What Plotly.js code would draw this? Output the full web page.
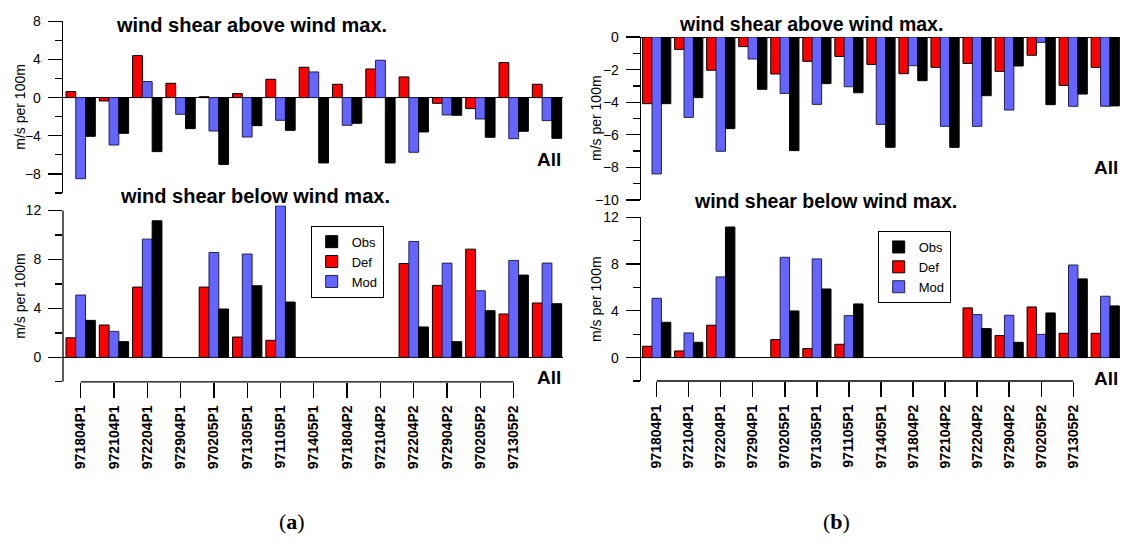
<!DOCTYPE html>
<html>
<head>
<meta charset="utf-8">
<script src="https://cdn.plot.ly/plotly-3.0.1.min.js"></script>
<style>html,body{margin:0;padding:0;background:#fff;}#chart{width:1123px;height:546px;}</style>
</head>
<body>
<div id="chart"></div>
<script>
const CATEGORIES = ['971804P1','972104P1','972204P1','972904P1','970205P1','971305P1','971105P1','971405P1','971804P2','972104P2','972204P2','972904P2','970205P2','971305P2','All'];
const STATIONS = CATEGORIES.slice(0, 14);

// panel (a) - wind shear above wind max.
const A_ABOVE_DEF = [0.63, -0.35, 4.4, 1.5, 0.1, 0.42, 1.92, 3.18, 1.4, 3.0, 2.17, -0.6, -1.15, 3.67, 1.4];
const A_ABOVE_MOD = [-8.5, -4.97, 1.68, -1.75, -3.5, -4.13, -2.38, 2.69, -2.9, 3.92, -5.73, -1.82, -2.24, -4.3, -2.41];
const A_ABOVE_OBS = [-4.06, -3.74, -5.66, -3.25, -7.0, -2.94, -3.43, -6.85, -2.69, -6.85, -3.6, -1.85, -4.16, -3.53, -4.27];
// panel (a) - wind shear below wind max.
const A_BELOW_DEF = [1.6, 2.64, 5.74, null, 5.74, 1.66, 1.39, null, null, null, 7.67, 5.88, 8.84, 3.54, 4.44];
const A_BELOW_MOD = [5.09, 2.12, 9.66, null, 8.57, 8.44, 12.38, null, null, null, 9.47, 7.7, 5.44, 7.92, 7.7];
const A_BELOW_OBS = [3.02, 1.28, 11.16, null, 3.95, 5.85, 4.52, null, null, null, 2.48, 1.28, 3.81, 6.72, 4.38];
// panel (b) - wind shear above wind max.
const B_ABOVE_DEF = [-4.09, -0.76, -2.04, -0.59, -2.27, -1.49, -1.19, -1.68, -2.25, -1.86, -1.62, -2.11, -1.12, -2.97, -1.86];
const B_ABOVE_MOD = [-8.4, -4.93, -7.01, -1.35, -3.46, -4.13, -3.05, -5.36, -1.76, -5.48, -5.48, -4.48, -0.33, -4.25, -4.25];
const B_ABOVE_OBS = [-4.09, -3.72, -5.62, -3.21, -6.97, -2.86, -3.42, -6.77, -2.68, -6.77, -3.6, -1.78, -4.15, -3.5, -4.23];
// panel (b) - wind shear below wind max.
const B_BELOW_DEF = [0.97, 0.57, 2.77, null, 1.54, 0.77, 1.14, null, null, null, 4.25, 1.88, 4.33, 2.08, 2.08];
const B_BELOW_MOD = [5.07, 2.11, 6.9, null, 8.58, 8.44, 3.59, null, null, null, 3.68, 3.62, 1.99, 7.92, 5.25];
const B_BELOW_OBS = [3.02, 1.31, 11.17, null, 3.99, 5.87, 4.59, null, null, null, 2.48, 1.31, 3.82, 6.73, 4.42];

const SERIES_NAMES = ['Def', 'Mod', 'Obs'];
const COLORS = {Def: '#FF0000', Mod: '#6464FF', Obs: '#000000'};
const RANKS = {Obs: 1, Def: 2, Mod: 3};

const FONT = 'Arial, "Liberation Sans", sans-serif';

const panels = [
  {xa: 'x',  ya: 'y',  data: {Def: A_ABOVE_DEF, Mod: A_ABOVE_MOD, Obs: A_ABOVE_OBS}, legend: null},
  {xa: 'x2', ya: 'y2', data: {Def: B_ABOVE_DEF, Mod: B_ABOVE_MOD, Obs: B_ABOVE_OBS}, legend: null},
  {xa: 'x3', ya: 'y3', data: {Def: A_BELOW_DEF, Mod: A_BELOW_MOD, Obs: A_BELOW_OBS}, legend: 'legend'},
  {xa: 'x4', ya: 'y4', data: {Def: B_BELOW_DEF, Mod: B_BELOW_MOD, Obs: B_BELOW_OBS}, legend: 'legend2'}
];

const traces = [];
panels.forEach(p => {
  SERIES_NAMES.forEach(s => {
    const t = {
      type: 'bar', name: s, x: CATEGORIES, y: p.data[s],
      xaxis: p.xa, yaxis: p.ya,
      marker: {color: COLORS[s], line: {color: s === 'Mod' ? '#202050' : '#000', width: 1}},
      showlegend: p.legend !== null,
      legendrank: RANKS[s],
      hoverinfo: 'x+y+name'
    };
    if (p.legend) t.legend = p.legend;
    traces.push(t);
  });
});

const W = 1123, H = 546;
const px = v => v / W;
const py = v => 1 - v / H;

function xAxis(anchor, domain, range, showLabels) {
  const ax = {
    type: 'category', categoryorder: 'array', categoryarray: CATEGORIES, anchor: anchor,
    domain: domain, range: range, showgrid: false, zeroline: false, showline: false, fixedrange: true
  };
  if (showLabels) {
    Object.assign(ax, {
      tickmode: 'array', tickvals: STATIONS, ticktext: STATIONS,
      ticks: 'outside', ticklen: 15, tickwidth: 1.3, tickcolor: '#000',
      tickangle: -90, ticklabelstandoff: 2,
      tickfont: {family: FONT, size: 14, color: '#000', weight: 'bold'}
    });
  } else {
    Object.assign(ax, {showticklabels: false, ticks: ''});
  }
  return ax;
}

function yAxis(anchor, domain, range, dtick, minorDtick, showline) {
  return {
    anchor: anchor, domain: domain, range: range, fixedrange: true,
    showgrid: false, showline: showline, linecolor: '#000', linewidth: 1.3,
    zeroline: true, zerolinecolor: '#000', zerolinewidth: 1,
    tickmode: 'linear', tick0: 0, dtick: dtick,
    ticks: 'outside', ticklen: 14, tickwidth: 1.3, tickcolor: '#000',
    ticklabelstandoff: 4,
    tickfont: {family: FONT, size: 14, color: '#000'},
    minor: {tickmode: 'linear', tick0: 0, dtick: minorDtick, ticks: 'outside', ticklen: 7, tickwidth: 1.3, tickcolor: '#000', showgrid: false}
  };
}

const AX = [px(63), px(563)];
const BX = [px(641), px(1120)];
const A_XRANGE = [-0.53, 14.48];
const B_XRANGE = [-0.49, 14.46];

const titleFont = s => ({family: FONT, size: s, color: '#000', weight: 'bold'});
const ann = [];
function addText(text, x, y, size, opts) {
  ann.push(Object.assign({text: text, xref: 'paper', yref: 'paper', x: x, y: y, showarrow: false,
    xanchor: 'center', yanchor: 'middle', font: titleFont(size)}, opts || {}));
}
addText('wind shear above wind max.', px(251), py(25), 20);
addText('wind shear below wind max.', px(255), py(196), 20);
addText('wind shear above wind max.', px(811), py(24), 19.5);
addText('wind shear below wind max.', px(825), py(201), 19.5);

[['x', 159], ['x3', 377], ['x2', 167.5], ['x4', 378]].forEach(([xa, yv]) => {
  ann.push({text: 'All', xref: xa + ' domain', x: 1, xanchor: 'right', yref: 'paper', y: py(yv),
    yanchor: 'middle', showarrow: false, font: titleFont(19)});
});

const yTitleFont = {family: FONT, size: 14, color: '#000'};
[[20, 106.7], [20, 295.8], [596, 118], [596, 299]].forEach(([xv, yv]) => {
  ann.push({text: 'm/s per 100m', xref: 'paper', yref: 'paper', x: px(xv), y: py(yv), textangle: -90,
    showarrow: false, xanchor: 'center', yanchor: 'middle', font: yTitleFont});
});

const subFont = {family: '"Liberation Serif", "Times New Roman", serif', size: 22, color: '#000'};
ann.push({text: '(<b>a</b>)', xref: 'paper', yref: 'paper', x: px(277), y: py(536), showarrow: false, font: subFont});
ann.push({text: '(<b>b</b>)', xref: 'paper', yref: 'paper', x: px(852), y: py(536), showarrow: false, font: subFont});

const shapes = [
  // category axis baselines from first to last station tick
  {type: 'line', xref: 'x3', yref: 'y3 domain', x0: 0, x1: STATIONS.length - 1, y0: 0, y1: 0, line: {color: '#000', width: 1.3}},
  {type: 'line', xref: 'x4', yref: 'y4 domain', x0: 0, x1: STATIONS.length - 1, y0: 0, y1: 0, line: {color: '#000', width: 1.3}},
  // y axis line of lower-left panel stops at 12
  {type: 'line', xref: 'x3 domain', yref: 'y3', x0: 0, x1: 0, y0: -2, y1: 12, line: {color: '#000', width: 1.3}}
];

const legendBase = {
  bgcolor: '#fff', bordercolor: '#000', borderwidth: 1,
  font: {family: FONT, size: 13, color: '#000'},
  xanchor: 'left', yanchor: 'top', traceorder: 'normal', tracegroupgap: 0, itemclick: false, itemdoubleclick: false
};

const layout = {
  width: W, height: H,
  margin: {l: 0, r: 0, t: 0, b: 0},
  paper_bgcolor: '#fff', plot_bgcolor: 'rgba(0,0,0,0)',
  barmode: 'group', bargap: 0.12, bargroupgap: 0,
  font: {family: FONT, color: '#000'},
  xaxis: xAxis('y', AX, A_XRANGE, false),
  xaxis2: xAxis('y2', BX, B_XRANGE, false),
  xaxis3: xAxis('y3', AX, A_XRANGE, true),
  xaxis4: xAxis('y4', BX, B_XRANGE, true),
  yaxis: yAxis('x', [py(193), py(21.3)], [-10, 8], 4, 2, true),
  yaxis2: yAxis('x2', [py(200), py(37)], [-10, 0], 2, 1, true),
  yaxis3: yAxis('x3', [py(381.8), py(205.6)], [-2, 12.4], 4, 2, false),
  yaxis4: yAxis('x4', [py(381), py(217.3)], [-2, 12], 4, 2, true),
  legend: Object.assign({x: px(310.7), y: py(225.7)}, legendBase),
  legend2: Object.assign({x: px(877.7), y: py(231)}, legendBase),
  annotations: ann,
  shapes: shapes,
  showlegend: true
};

Plotly.newPlot('chart', traces, layout, {displayModeBar: false, staticPlot: true});
</script>
</body>
</html>
